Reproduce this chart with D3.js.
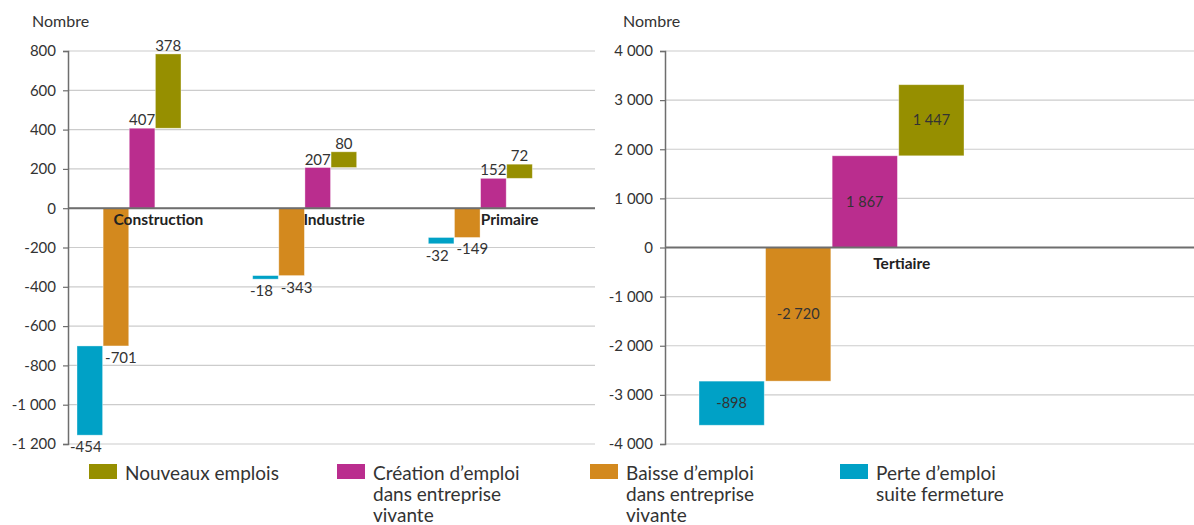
<!DOCTYPE html>
<html>
<head>
<meta charset="utf-8">
<script src="https://cdn.jsdelivr.net/npm/d3@7"></script>
<style>
  body { margin: 0; background: #fff; }
  svg { font-family: Lato, 'Noto Sans', sans-serif; }
</style>
</head>
<body>
<div id='container'></div>
<script>
// secteurs (graphique de gauche)
const categoriesLeft = ['Construction', 'Industrie', 'Primaire']
const perteLeft = [-454, -18, -32]
const baisseLeft = [-701, -343, -149]
const creationLeft = [407, 207, 152]
const nouveauxLeft = [378, 80, 72]
const ticksLeft = [800, 600, 400, 200, 0, -200, -400, -600, -800, -1000, -1200]

// tertiaire (graphique de droite)
const categoriesRight = ['Tertiaire']
const perteRight = [-898]
const baisseRight = [-2720]
const creationRight = [1867]
const nouveauxRight = [1447]
const ticksRight = [4000, 3000, 2000, 1000, 0, -1000, -2000, -3000, -4000]

const series = ['perte', 'baisse', 'creation', 'nouveaux']
const colors = {
  nouveaux: '#968f00',
  creation: '#ba2d8e',
  baisse: '#d3891e',
  perte: '#00a1c6'
}
const legendItems = [
  { key: 'nouveaux', lines: ['Nouveaux emplois'] },
  { key: 'creation', lines: ['Création d’emploi', 'dans entreprise', 'vivante'] },
  { key: 'baisse', lines: ['Baisse d’emploi', 'dans entreprise', 'vivante'] },
  { key: 'perte', lines: ['Perte d’emploi', 'suite fermeture'] }
]

const fr = d3.formatLocale({ decimal: ',', thousands: ' ', grouping: [3], currency: ['', ' €'], minus: '-' })
const fmt = fr.format(',d')

const svg = d3.select('#container')
  .append('svg')
  .attr('width', 1194)
  .attr('height', 525)

// construit les segments de la cascade
function buildBars (cats, perte, baisse, creation, nouveaux) {
  const bars = []
  cats.forEach((c, i) => {
    bars.push({ cat: c, key: 'perte', value: perte[i], y0: baisse[i], y1: baisse[i] + perte[i] })
    bars.push({ cat: c, key: 'baisse', value: baisse[i], y0: 0, y1: baisse[i] })
    bars.push({ cat: c, key: 'creation', value: creation[i], y0: 0, y1: creation[i] })
    bars.push({ cat: c, key: 'nouveaux', value: nouveaux[i], y0: creation[i], y1: creation[i] + nouveaux[i] })
  })
  return bars
}

// petit décalage des étiquettes négatives, comme sur l'original
const labelShift = { perte: -4, baisse: 5, creation: 0, nouveaux: 0 }

function drawPanel (cfg) {
  const g = svg.append('g')

  const yScale = d3.scaleLinear()
    .domain(cfg.domain)
    .range([444, 51])

  const xScale = d3.scaleBand()
    .domain(cfg.categories)
    .range([cfg.left, cfg.right])
    .padding(0)

  const inner = d3.scaleBand()
    .domain(series)
    .range([cfg.groupStart, cfg.groupStart + cfg.groupWidth])
    .paddingInner(0.02)

  // grille
  g.append('g')
    .selectAll('line')
    .data(cfg.ticks)
    .join('line')
    .attr('x1', cfg.left)
    .attr('x2', cfg.right)
    .attr('y1', d => yScale(d))
    .attr('y2', d => yScale(d))
    .attr('stroke', '#cccccc')
    .attr('stroke-width', 1.2)

  const yAxis = g.append('g')
    .attr('transform', `translate(${cfg.left},0)`)
    .call(d3.axisLeft(yScale).tickValues(cfg.ticks).tickFormat(fmt).tickSize(5).tickPadding(7))
  yAxis.select('.domain').attr('stroke', '#6e6e6e').attr('stroke-width', 1.5)
  yAxis.selectAll('.tick line').attr('stroke', '#6e6e6e').attr('stroke-width', 1.2)
  yAxis.selectAll('.tick text')
    .attr('fill', '#333')
    .style('font-size', '15px')
    .style('font-family', 'Lato, sans-serif')

  const bars = buildBars(cfg.categories, cfg.perte, cfg.baisse, cfg.creation, cfg.nouveaux)

  g.append('g')
    .selectAll('rect')
    .data(bars)
    .join('rect')
    .attr('x', d => xScale(d.cat) + inner(d.key))
    .attr('width', inner.bandwidth())
    .attr('y', d => yScale(Math.max(d.y0, d.y1)))
    .attr('height', d => Math.abs(yScale(d.y0) - yScale(d.y1)))
    .attr('fill', d => colors[d.key])
    .attr('stroke', 'rgba(255,255,255,0.45)')
    .attr('stroke-width', 0.8)

  // ligne du zéro
  g.append('line')
    .attr('x1', cfg.left)
    .attr('x2', cfg.right)
    .attr('y1', yScale(0))
    .attr('y2', yScale(0))
    .attr('stroke', '#6e6e6e')
    .attr('stroke-width', 2)

  // étiquettes de valeurs
  g.append('g')
    .selectAll('text')
    .data(bars)
    .join('text')
    .attr('x', d => xScale(d.cat) + inner(d.key) + inner.bandwidth() / 2 + (cfg.inside ? 0 : labelShift[d.key]))
    .attr('y', d => {
      if (cfg.inside) return (yScale(d.y0) + yScale(d.y1)) / 2 + 5
      return d.value >= 0 ? yScale(Math.max(d.y0, d.y1)) - 3 : yScale(Math.min(d.y0, d.y1)) + 17
    })
    .attr('text-anchor', 'middle')
    .attr('fill', '#333')
    .style('font-size', cfg.inside ? '14.5px' : '15px')
    .text(d => fmt(d.value))

  // catégories
  g.append('g')
    .selectAll('text')
    .data(cfg.categories)
    .join('text')
    .attr('x', d => xScale(d) + inner('nouveaux') + 3)
    .attr('y', yScale(0) + cfg.labelDy)
    .attr('text-anchor', 'middle')
    .attr('fill', '#222')
    .style('font-size', '15.5px')
    .style('font-weight', 'bold')
    .text(d => d)

  g.append('text')
    .attr('x', cfg.titleX)
    .attr('y', 27)
    .attr('fill', '#333')
    .style('font-size', '16px')
    .text('Nombre')
}

drawPanel({
  categories: categoriesLeft,
  perte: perteLeft,
  baisse: baisseLeft,
  creation: creationLeft,
  nouveaux: nouveauxLeft,
  ticks: ticksLeft,
  domain: [-1200, 800],
  left: 68,
  right: 595,
  groupStart: 9,
  groupWidth: 104,
  inside: false,
  labelDy: 17,
  titleX: 32
})

drawPanel({
  categories: categoriesRight,
  perte: perteRight,
  baisse: baisseRight,
  creation: creationRight,
  nouveaux: nouveauxRight,
  ticks: ticksRight,
  domain: [-4000, 4000],
  left: 665,
  right: 1194,
  groupStart: 34,
  groupWidth: 265,
  inside: true,
  labelDy: 21,
  titleX: 623
})

// légende
const legendX = [89, 337, 590, 840]
const legend = svg.append('g')
  .selectAll('g')
  .data(legendItems)
  .join('g')
  .attr('transform', (d, i) => `translate(${legendX[i]},464)`)

legend.append('rect')
  .attr('width', 28)
  .attr('height', 15)
  .attr('fill', d => colors[d.key])

legend.append('text')
  .attr('x', 36)
  .attr('y', 16)
  .attr('fill', '#333')
  .style('font-size', '19px')
  .selectAll('tspan')
  .data(d => d.lines)
  .join('tspan')
  .attr('x', 36)
  .attr('dy', (d, i) => i === 0 ? 0 : 21)
  .text(d => d)
</script>
</body>
</html>
